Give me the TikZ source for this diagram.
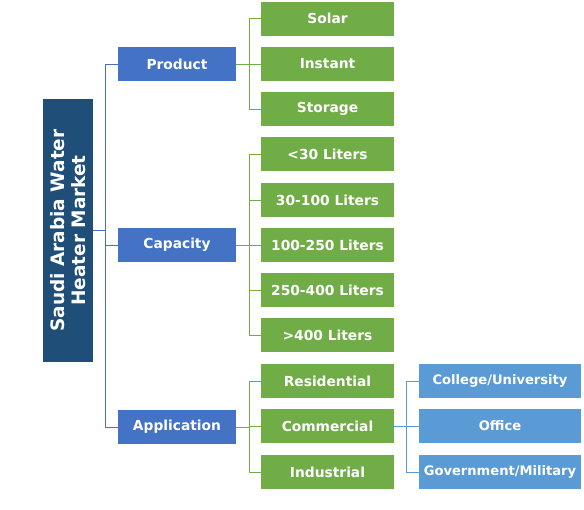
\documentclass[tikz,border=0pt]{standalone}
\usepackage{fontspec}
\setmainfont{DejaVu Sans}
\usepackage{xcolor}
\usetikzlibrary{positioning,calc}
\definecolor{rootBlue}{HTML}{1F4E79}
\definecolor{segBlue}{HTML}{4472C4}
\definecolor{subGreen}{HTML}{70AD47}
\definecolor{leafBlue}{HTML}{5B9BD5}

\begin{document}
\begin{tikzpicture}[
    x=1pt, y=-1pt,
    box/.style={inner sep=0pt, text=white, font=\bfseries\fontsize{13.8}{15}\selectfont, fill=#1},
    seg/.style={box=segBlue, minimum width=118pt, minimum height=34pt},
    sub/.style={box=subGreen, minimum width=133pt, minimum height=34pt},
    leaf/.style={box=leafBlue, minimum width=162pt, minimum height=34pt, font=\bfseries\fontsize{13.1}{14}\selectfont},
    conn/.style={line width=0.8pt, draw=#1}
  ]
  \useasboundingbox (0,0) rectangle (584,509);

  % root
  \node[box=rootBlue, minimum width=263pt, minimum height=50pt, rotate=90,
        align=center, font=\bfseries\fontsize{18.5}{21}\selectfont] (root) at (68,230.5)
        {Saudi Arabia Water\\Heater Market};

  % segments
  \node[seg] (prod) at (177,64)  {Product};
  \node[seg] (cap)  at (177,245) {Capacity};
  \node[seg] (app)  at (177,427) {Application};

  % sub-segments
  \node[sub] (solar)   at (327.5,18.5)  {Solar};
  \node[sub] (instant) at (327.5,64)    {Instant};
  \node[sub] (storage) at (327.5,109)   {Storage};
  \node[sub] (c30)     at (327.5,154)   {<30 Liters};
  \node[sub] (c100)    at (327.5,200)   {30-100 Liters};
  \node[sub] (c250)    at (327.5,245)   {100-250 Liters};
  \node[sub] (c400)    at (327.5,290)   {250-400 Liters};
  \node[sub] (cmax)    at (327.5,335)   {>400 Liters};
  \node[sub] (res)     at (327.5,381)   {Residential};
  \node[sub] (com)     at (327.5,426)   {Commercial};
  \node[sub] (ind)     at (327.5,472)   {Industrial};

  % commercial end users
  \node[leaf] (college) at (500,381) {College/University};
  \node[leaf] (office)  at (500,426) {Office};
  \node[leaf] (gov)     at (500,472) {Government/Military};

  % connectors
  \coordinate (j0) at (105,230.5);
  \draw[conn=segBlue] (root.south) -- (j0);
  \draw[conn=segBlue] (j0) |- (prod.west);
  \draw[conn=segBlue] (j0) |- (cap.west);
  \draw[conn=segBlue] (j0) |- (app.west);

  \coordinate (jp) at (249,64);
  \draw[conn=subGreen] (prod.east) -- (jp);
  \draw[conn=subGreen] (jp) |- (solar.west);
  \draw[conn=subGreen] (jp) |- (instant.west);
  \draw[conn=subGreen] (jp) |- (storage.west);

  \coordinate (jc) at (249,245);
  \draw[conn=subGreen] (cap.east) -- (jc);
  \draw[conn=subGreen] (jc) |- (c30.west);
  \draw[conn=subGreen] (jc) |- (c100.west);
  \draw[conn=subGreen] (jc) |- (c250.west);
  \draw[conn=subGreen] (jc) |- (c400.west);
  \draw[conn=subGreen] (jc) |- (cmax.west);

  \coordinate (ja) at (249,427);
  \draw[conn=subGreen] (app.east) -- (ja);
  \draw[conn=subGreen] (ja) |- (res.west);
  \draw[conn=subGreen] (ja) |- (com.west);
  \draw[conn=subGreen] (ja) |- (ind.west);

  \coordinate (jm) at (406,426);
  \draw[conn=leafBlue] (com.east) -- (jm);
  \draw[conn=leafBlue] (jm) |- (college.west);
  \draw[conn=leafBlue] (jm) |- (office.west);
  \draw[conn=leafBlue] (jm) |- (gov.west);
\end{tikzpicture}
\end{document}
